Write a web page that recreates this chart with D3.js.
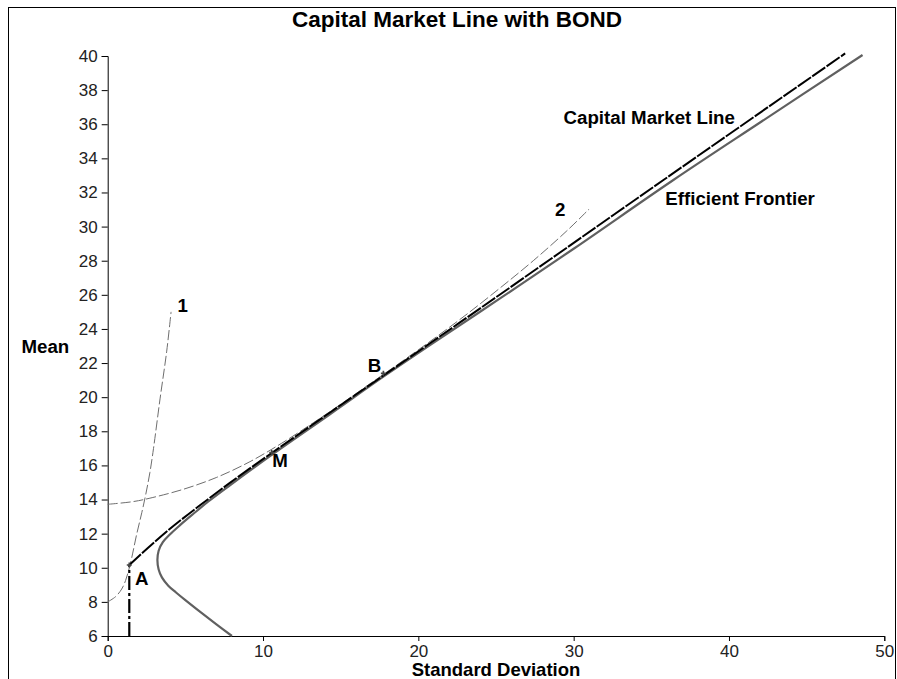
<!DOCTYPE html>
<html>
<head>
<meta charset="utf-8">
<script src="https://cdn.jsdelivr.net/npm/d3@7"></script>
<style>
  html, body { margin: 0; padding: 0; background: #fff; }
  svg { display: block; }
  text { font-family: "Liberation Sans", Arial, Helvetica, sans-serif; }
</style>
</head>
<body>
<svg id="chart" width="897" height="679"></svg>
<script>
// Axis ticks
const xTicks = [0, 10, 20, 30, 40, 50];
const yTicks = [6, 8, 10, 12, 14, 16, 18, 20, 22, 24, 26, 28, 30, 32, 34, 36, 38, 40];

// Efficient frontier of risky assets: [std dev, mean]
const frontier = [
  [8.0, 6.0], [7.0, 6.68], [6.0, 7.38], [5.0, 8.1], [4.4, 8.55], [3.9, 8.95],
  [3.5, 9.42], [3.28, 9.9], [3.2, 10.45], [3.28, 11.0], [3.55, 11.5], [4.0, 11.95],
  [4.66, 12.5], [5.5, 13.15], [6.5, 13.9], [7.89, 14.85], [10.56, 16.62],
  [14.31, 19.0], [17.75, 21.2], [20.75, 23.05], [25.26, 25.79], [30.0, 28.7],
  [36.42, 32.73], [42.0, 36.1], [48.6, 40.06]
];

// Bond position (vertical stem) and the capital market line
const bondStem = [[1.39, 6.0], [1.39, 10.16]];
const cml = [
  [1.39, 10.16], [2.0, 10.68], [2.93, 11.44], [3.9, 12.2], [4.87, 12.91], [5.94, 13.66],
  [7.89, 14.99], [10.56, 16.73], [14.31, 19.1], [20.75, 23.16], [25.26, 26.02],
  [35.78, 32.73], [47.48, 40.15]
];

// Indifference curves
const curve1 = [
  [0, 8.0], [0.5, 8.3], [0.9, 8.75], [1.15, 9.25], [1.35, 9.85], [1.55, 10.6],
  [1.85, 11.9], [2.2, 13.25], [2.45, 14.3], [2.72, 15.6], [2.95, 17.0], [3.37, 19.9],
  [3.8, 22.7], [4.08, 25.0]
];
const curve2 = [
  [0, 13.72], [1.65, 13.88], [2.72, 14.08], [4.87, 14.6], [7.02, 15.3], [9.16, 16.22],
  [11.2, 17.3], [13.24, 18.5], [15, 19.58], [17, 20.86], [19, 22.13], [21, 23.43],
  [23, 24.78], [25.26, 26.4], [27.4, 28.0], [29.56, 29.75], [31.0, 31.03]
];

// Point labels
const pointLabels = [
  { text: "A", x: 1.75, y: 9.0 },
  { text: "M", x: 10.6, y: 15.9 },
  { text: "B", x: 16.75, y: 21.5 }
];
const markers = [[1.39, 10.16], [10.56, 16.75], [17.75, 21.4]];

const svg = d3.select("#chart");

const x = d3.scaleLinear().domain([0, 50]).range([107.7, 884.3]);
const y = d3.scaleLinear().domain([6, 40]).range([636, 56]);

// Outer frame
svg.append("rect")
  .attr("x", 8.5).attr("y", 7.5)
  .attr("width", 887).attr("height", 700)
  .attr("fill", "none").attr("stroke", "#000").attr("stroke-width", 1);

// Title
svg.append("text")
  .attr("x", 457).attr("y", 26.5)
  .attr("text-anchor", "middle")
  .attr("font-size", 22.5).attr("font-weight", "bold")
  .text("Capital Market Line with BOND");

// Axes with minor ticks
const yAxis = d3.axisLeft(y).tickValues(yTicks).tickSize(6).tickPadding(4).tickFormat(d3.format("d"));
const yMinor = d3.axisLeft(y).tickValues(d3.range(6, 40.001, 0.4)).tickSize(3).tickFormat("");
const xAxis = d3.axisBottom(x).tickValues(xTicks).tickSize(5).tickPadding(4).tickFormat(d3.format("d"));
const xMinor = d3.axisBottom(x).tickValues(d3.range(0, 50.001, 2)).tickSize(3).tickFormat("");

const gy = svg.append("g").attr("transform", `translate(${x(0)},0)`);
gy.call(yMinor);
gy.call(yAxis);
const gx = svg.append("g").attr("transform", `translate(0,${y(6)})`);
gx.call(xMinor);
gx.call(xAxis);

svg.selectAll(".domain").attr("stroke", "#000");
svg.selectAll(".tick line").attr("stroke", "#000");
svg.selectAll(".tick text")
  .attr("font-family", "Liberation Sans, Arial, sans-serif")
  .attr("font-size", 17)
  .attr("fill", "#222");

// Axis titles
svg.append("text")
  .attr("x", 21.5).attr("y", 353)
  .attr("font-size", 18.7).attr("font-weight", "bold")
  .text("Mean");
svg.append("text")
  .attr("x", 496).attr("y", 676)
  .attr("text-anchor", "middle")
  .attr("font-size", 18.5).attr("font-weight", "bold")
  .text("Standard Deviation");

const smooth = d3.line().x(d => x(d[0])).y(d => y(d[1])).curve(d3.curveCatmullRom.alpha(0.5));
const straight = d3.line().x(d => x(d[0])).y(d => y(d[1]));

// Indifference curves (thin dashed)
[curve1, curve2].forEach(c => {
  svg.append("path").datum(c)
    .attr("d", smooth)
    .attr("fill", "none")
    .attr("stroke", "#6e6e6e")
    .attr("stroke-width", 1)
    .attr("stroke-dasharray", "10,3");
});

// Efficient frontier
svg.append("path").datum(frontier)
  .attr("d", smooth)
  .attr("fill", "none")
  .attr("stroke", "#606060")
  .attr("stroke-width", 2.2);

// Capital market line with bond stem
svg.append("path").datum(bondStem)
  .attr("d", straight)
  .attr("fill", "none")
  .attr("stroke", "#000")
  .attr("stroke-width", 2.2)
  .attr("stroke-dasharray", "14,3,3,3");
svg.append("path").datum(cml)
  .attr("d", smooth)
  .attr("fill", "none")
  .attr("stroke", "#000")
  .attr("stroke-width", 2)
  .attr("stroke-dasharray", "16,1.5");

// Small markers
svg.selectAll("path.mk").data(markers).enter().append("path")
  .attr("class", "mk")
  .attr("d", d3.symbol().type(d3.symbolCross).size(14))
  .attr("transform", d => `translate(${x(d[0])},${y(d[1])})`)
  .attr("fill", "#444");

// Labels
const lab = (t, px, py) => svg.append("text")
  .attr("x", px).attr("y", py)
  .attr("font-size", 18.7).attr("font-weight", "bold")
  .text(t);

pointLabels.forEach(p => lab(p.text, x(p.x), y(p.y)));
lab("1", x(4.5), y(25.0));
lab("2", x(28.8), y(30.6));
lab("Capital Market Line", x(29.35), y(36.0));
lab("Efficient Frontier", x(35.9), y(31.25));
</script>
</body>
</html>
